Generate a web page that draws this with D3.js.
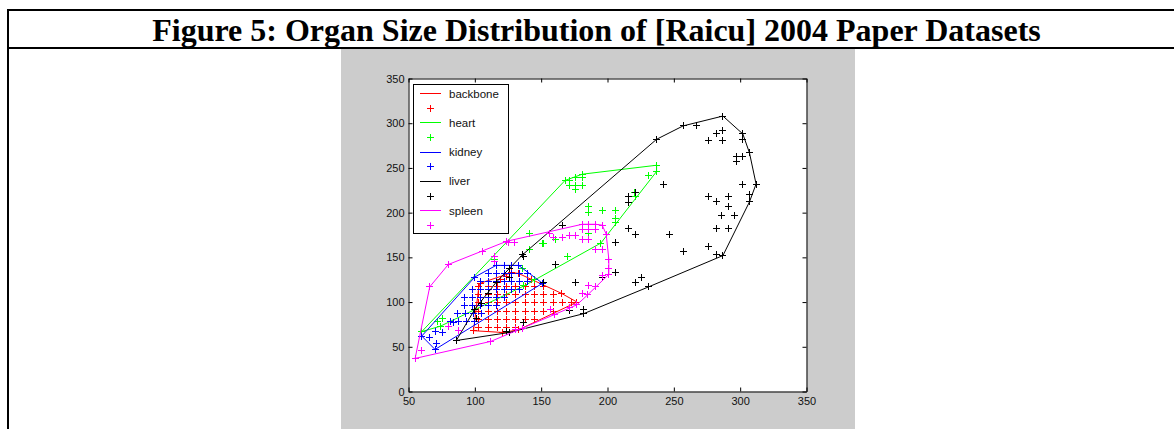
<!DOCTYPE html>
<html>
<head>
<meta charset="utf-8">
<script src="https://cdn.jsdelivr.net/npm/d3@7"></script>
<style>
  html, body { margin: 0; padding: 0; background: #fff; }
  svg { display: block; }
</style>
</head>
<body>
<svg id="chart" width="1174" height="429"></svg>
<script>
const TITLE = 'Figure 5: Organ Size Distribution of [Raicu] 2004 Paper Datasets';

const organNames = ['backbone', 'heart', 'kidney', 'liver', 'spleen'];
const xTicks = [50, 100, 150, 200, 250, 300, 350];
const yTicks = [0, 50, 100, 150, 200, 250, 300, 350];

// sizes, [x, y]
const backbone = [
  [104, 121], [119, 125], [128, 133], [133, 132], [143, 125], [124, 129],
  [103, 117], [110, 117], [117, 117], [124, 117], [131, 117], [138, 117], [145, 117], [152, 117],
  [103, 108], [110, 108], [117, 108], [124, 108], [131, 108], [138, 108], [145, 108], [152, 108], [159, 108], [165, 110],
  [103, 99], [110, 99], [117, 99], [124, 99], [131, 99], [138, 99], [145, 99], [152, 99], [159, 99], [166, 99], [173, 99], [177, 100],
  [103, 90], [110, 90], [117, 90], [124, 90], [131, 90], [138, 90], [145, 90], [152, 90], [159, 90],
  [103, 81], [110, 81], [117, 81], [124, 81], [131, 81], [138, 81], [145, 81],
  [103, 72], [110, 72], [117, 72], [124, 72], [131, 72],
  [99, 68], [121, 66], [133, 69]
];

const heart = [
  [60, 67], [72, 78], [76, 82], [74, 73], [100, 128], [115, 148], [136, 138], [137, 118], [145, 125],
  [170, 151], [141, 177], [141, 159], [152, 166], [161, 170], [151, 166], [195, 166],
  [168, 236], [171, 236], [176, 239], [181, 239], [181, 243], [171, 230], [176, 230], [181, 230], [176, 226],
  [186, 207], [186, 200], [196, 202], [206, 202], [206, 194], [206, 189], [186, 177], [186, 170],
  [221, 218], [220, 222], [216, 211], [231, 242], [237, 246], [237, 253]
];

const kidney = [
  [60, 62], [70, 47], [71, 54], [66, 60], [70, 67], [76, 66], [80, 73], [84, 77], [151, 121], [100, 128],
  [116, 141], [122, 141], [128, 141], [133, 141],
  [110, 132], [116, 132], [122, 132], [128, 132], [134, 132], [140, 132],
  [104, 123], [110, 123], [116, 123], [122, 123], [128, 123], [134, 123], [140, 123],
  [98, 114], [104, 114], [110, 114], [116, 114], [122, 114], [128, 114], [134, 114],
  [92, 105], [98, 105], [104, 105], [110, 105], [116, 105], [122, 105],
  [92, 96], [98, 96], [104, 96], [110, 96], [116, 96],
  [87, 87], [93, 87], [99, 87], [105, 87],
  [82, 78], [88, 78], [94, 78], [100, 78]
];

const liver = [
  [86, 57], [126, 66], [182, 87], [231, 117], [287, 152], [282, 153], [276, 162],
  [307, 212], [312, 232], [307, 267], [302, 288], [302, 282], [287, 308], [267, 298], [257, 297], [237, 282], [166, 186],
  [101, 82], [100, 92], [105, 98], [110, 110], [116, 122], [126, 127], [126, 137], [137, 151], [136, 153],
  [161, 142], [152, 122], [176, 122], [171, 91], [182, 92], [137, 77], [124, 67],
  [216, 218], [221, 222], [216, 211], [216, 182], [221, 176], [206, 167], [206, 133], [196, 127], [221, 122], [226, 127],
  [242, 232], [247, 176], [257, 157],
  [282, 288], [287, 292], [276, 281], [287, 281], [297, 263], [302, 263], [297, 257], [302, 232], [307, 220],
  [276, 218], [282, 212], [291, 218], [291, 207], [286, 197], [296, 197], [282, 182], [291, 182]
];

const spleen = [
  [55, 37], [60, 46], [66, 117], [80, 142], [106, 157], [115, 151], [115, 145], [125, 167], [130, 167], [124, 168],
  [156, 177], [159, 172], [166, 172], [171, 174], [176, 174], [181, 187], [186, 187], [191, 187], [196, 186],
  [181, 181], [186, 181], [191, 181], [181, 170], [186, 170], [191, 159], [196, 159], [199, 176],
  [201, 148], [201, 138], [201, 131], [196, 130], [191, 117], [186, 118], [185, 108], [181, 110],
  [177, 97], [171, 94], [157, 92], [160, 86], [136, 71], [131, 69], [112, 56], [80, 73], [88, 68]
];

const organData = { backbone, heart, kidney, liver, spleen };
const organColor = { backbone: '#ff0000', heart: '#00ff00', kidney: '#0000ff', liver: '#000000', spleen: '#ff00ff' };

const svg = d3.select('#chart');

// document table frame + grey figure window
svg.append('rect')
  .attr('x', 341).attr('y', 49).attr('width', 514).attr('height', 380)
  .attr('fill', '#cccccc');

svg.append('path')
  .attr('d', 'M8,10H1174M8,48H1174M8,9V429')
  .attr('fill', 'none')
  .attr('stroke', '#000')
  .attr('stroke-width', 2);

svg.append('text')
  .attr('x', 596.5).attr('y', 40.5)
  .attr('text-anchor', 'middle')
  .attr('font-family', '"Liberation Serif", "Times New Roman", serif')
  .attr('font-weight', 'bold')
  .attr('font-size', 32)
  .attr('fill', '#000')
  .text(TITLE);

// axes
const x = d3.scaleLinear().domain([50, 350]).range([408.5, 806.5]);
const y = d3.scaleLinear().domain([0, 350]).range([391.5, 78.5]);

svg.append('rect')
  .attr('x', x(50)).attr('y', y(350))
  .attr('width', x(350) - x(50)).attr('height', y(0) - y(350))
  .attr('fill', '#fff');

const axisFont = '"Liberation Sans", Arial, sans-serif';

function styleAxis(g) {
  g.attr('font-family', axisFont).attr('font-size', 11);
  g.select('.domain').attr('stroke', '#000');
  g.selectAll('.tick line').attr('stroke', '#000');
  g.selectAll('.tick text').attr('fill', '#111');
}

svg.append('g').attr('transform', `translate(0,${y(0)})`)
  .call(d3.axisBottom(x).tickValues(xTicks).tickSize(-4).tickSizeOuter(0).tickPadding(6))
  .call(styleAxis);
svg.append('g').attr('transform', `translate(0,${y(350)})`)
  .call(d3.axisTop(x).tickValues(xTicks).tickSize(-4).tickSizeOuter(0).tickFormat(''))
  .call(styleAxis);
svg.append('g').attr('transform', `translate(${x(50)},0)`)
  .call(d3.axisLeft(y).tickValues(yTicks).tickSize(-4).tickSizeOuter(0).tickPadding(4))
  .call(styleAxis);
svg.append('g').attr('transform', `translate(${x(350)},0)`)
  .call(d3.axisRight(y).tickValues(yTicks).tickSize(-4).tickSizeOuter(0).tickFormat(''))
  .call(styleAxis);

// hull outline + markers for every organ
const plus = 'M-3.5,0H3.5M0,-3.5V3.5';
const snap = v => Math.floor(v) + 0.5;

const layer = svg.append('g');
for (const organ of organNames) {
  const pts = organData[organ].map(d => [x(d[0]), y(d[1])]);
  const hull = d3.polygonHull(pts);
  layer.append('path')
    .attr('d', d3.line()(hull) + 'Z')
    .attr('fill', 'none')
    .attr('stroke', organColor[organ])
    .attr('stroke-width', 1);
  layer.append('g').selectAll('path')
    .data(pts)
    .join('path')
    .attr('transform', d => `translate(${snap(d[0])},${snap(d[1])})`)
    .attr('d', plus)
    .attr('stroke', organColor[organ])
    .attr('stroke-width', 1)
    .attr('fill', 'none');
}

// legend, line sample then marker sample for each organ
const legend = svg.append('g');
legend.append('rect')
  .attr('x', 413.5).attr('y', 84.5).attr('width', 95).attr('height', 149)
  .attr('fill', '#fff').attr('stroke', '#000');

const rowY = i => 93.5 + i * 14.65;
const items = legend.selectAll('g.item')
  .data(organNames)
  .join('g').attr('class', 'item');

items.append('line')
  .attr('x1', 420).attr('x2', 441)
  .attr('y1', (d, i) => snap(rowY(2 * i))).attr('y2', (d, i) => snap(rowY(2 * i)))
  .attr('stroke', d => organColor[d]);
items.append('text')
  .attr('x', 449).attr('y', (d, i) => rowY(2 * i) + 4)
  .attr('font-family', axisFont).attr('font-size', 11.5)
  .attr('fill', '#111')
  .text(d => d);
items.append('path')
  .attr('transform', (d, i) => `translate(430.5,${snap(rowY(2 * i + 1))})`)
  .attr('d', plus)
  .attr('stroke', d => organColor[d])
  .attr('fill', 'none');
</script>
</body>
</html>
